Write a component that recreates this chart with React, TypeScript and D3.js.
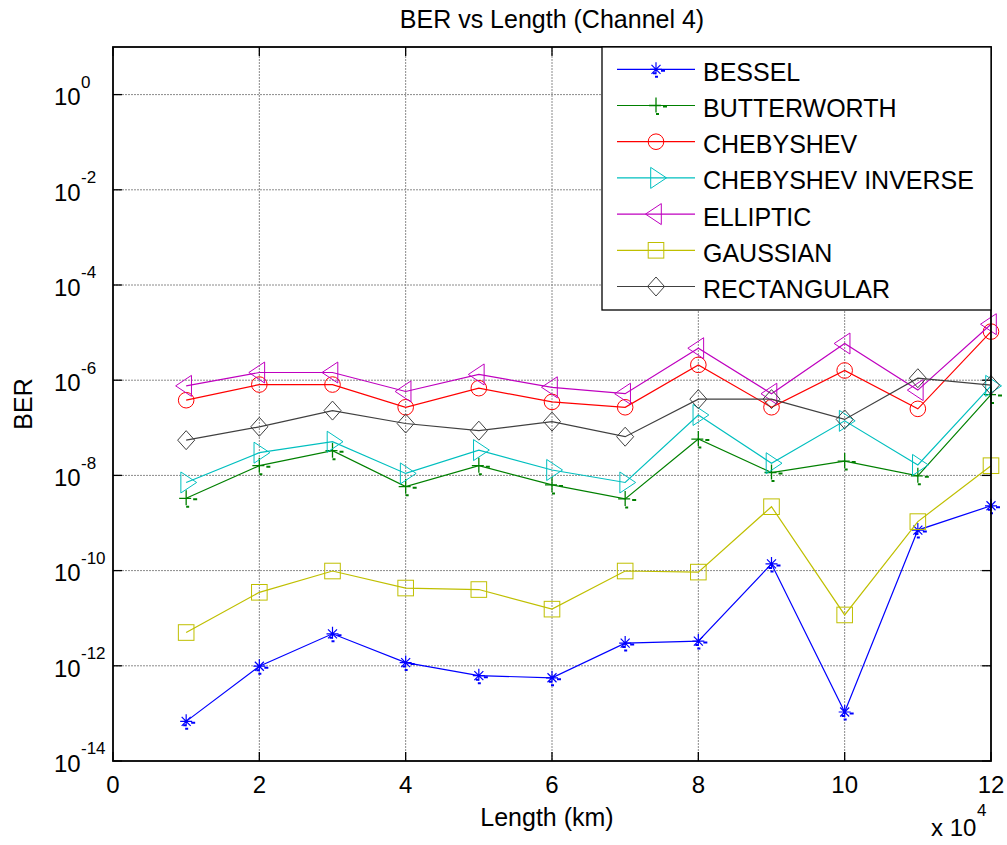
import React from "react";
import * as d3 from "d3";

const lengths = [10000, 20000, 30000, 40000, 50000, 60000, 70000, 80000, 90000, 100000, 110000, 120000];

const bessel = [6.8e-14, 9.8e-13, 4.7e-12, 1.17e-12, 6.2e-13, 5.6e-13, 3.0e-12, 3.3e-12, 1.38e-10, 1.07e-13, 7.1e-10, 2.3e-9];
const butterworth = [3.3e-9, 1.6e-8, 3.3e-8, 5.8e-9, 1.6e-8, 6.3e-9, 3.2e-9, 5.8e-8, 1.15e-8, 2.0e-8, 9.8e-9, 5.0e-7];
const chebyshev = [3.8e-7, 8.1e-7, 8.1e-7, 2.7e-7, 6.8e-7, 3.5e-7, 2.7e-7, 2.1e-6, 2.7e-7, 1.6e-6, 2.5e-7, 1.05e-5];
const chebyshevInverse = [7.1e-9, 3.0e-8, 5.1e-8, 1.1e-8, 3.4e-8, 1.3e-8, 7.1e-9, 1.86e-7, 1.8e-8, 1.4e-7, 1.66e-8, 7.6e-7];
const elliptic = [7.6e-7, 1.45e-6, 1.45e-6, 5.8e-7, 1.32e-6, 7.1e-7, 5.2e-7, 4.7e-6, 5.2e-7, 5.9e-6, 6.2e-7, 1.5e-5];
const gaussian = [5.0e-12, 3.5e-11, 9.8e-11, 4.3e-11, 4.0e-11, 1.55e-11, 9.8e-11, 9.3e-11, 2.2e-9, 1.17e-11, 1.07e-9, 1.6e-8];
const rectangular = [5.5e-8, 1.05e-7, 2.3e-7, 1.23e-7, 8.7e-8, 1.35e-7, 6.5e-8, 4.0e-7, 4.0e-7, 1.5e-7, 1.1e-6, 7.9e-7];

const seriesNames = ["BESSEL", "BUTTERWORTH", "CHEBYSHEV", "CHEBYSHEV INVERSE", "ELLIPTIC", "GAUSSIAN", "RECTANGULAR"];
const seriesValues = [bessel, butterworth, chebyshev, chebyshevInverse, elliptic, gaussian, rectangular];
const seriesColors = ["#0000ff", "#008000", "#ff0000", "#00bfbf", "#bf00bf", "#bfbf00", "#404040"];
const seriesMarkers = ["asterisk", "plus", "circle", "triRight", "triLeft", "square", "diamond"];

const xTicks = [0, 20000, 40000, 60000, 80000, 100000, 120000];
const xTickLabels = ["0", "2", "4", "6", "8", "10", "12"];
const yTickExps = [0, -2, -4, -6, -8, -10, -12, -14];

const W = 1007;
const H = 845;
const left = 113;
const right = 991;
const top = 47;
const bottom = 761;
const FONT = "'Liberation Sans', Arial, Helvetica, sans-serif";

function Marker({ type, x, y, color }: { type: string; x: number; y: number; color: string }) {
  const sw = 1;
  const common = { fill: "none", stroke: color, strokeWidth: sw };
  switch (type) {
    case "circle":
      return <circle cx={x} cy={y} r={7.8} {...common} />;
    case "square":
      return <rect x={x - 7.8} y={y - 7.8} width={15.6} height={15.6} {...common} />;
    case "diamond":
      return <path d={`M${x},${y - 9.5}L${x + 8.5},${y}L${x},${y + 9.5}L${x - 8.5},${y}Z`} {...common} />;
    case "triLeft":
      return <path d={`M${x - 10.5},${y}L${x + 5.3},${y - 10.5}L${x + 5.3},${y + 10.5}Z`} {...common} />;
    case "triRight":
      return <path d={`M${x + 10.5},${y}L${x - 5.3},${y - 10.5}L${x - 5.3},${y + 10.5}Z`} {...common} />;
    case "plus":
      return (
        <g stroke={color} strokeWidth={1.3} fill="none">
          <path d={`M${x - 7},${y}L${x + 5},${y}M${x},${y - 8}L${x},${y + 7}`} />
          <path d={`M${x + 7},${y + 1}L${x + 11},${y + 1}M${x},${y + 8.5}L${x + 3},${y + 8.5}`} strokeWidth={2} />
        </g>
      );
    case "asterisk":
    default:
      return (
        <g stroke={color} strokeWidth={1.2} fill="none">
          <path d={`M${x - 6},${y}L${x + 6},${y}M${x},${y - 7}L${x},${y + 5}M${x - 4.5},${y - 4.5}L${x + 4.5},${y + 4.5}M${x - 4.5},${y + 4.5}L${x + 4.5},${y - 4.5}`} />
          <path d={`M${x + 5},${y + 1.5}L${x + 9},${y + 1.5}M${x - 1},${y + 7.5}L${x + 2},${y + 7.5}M${x - 3},${y + 4}L${x},${y + 4}`} strokeWidth={2} />
        </g>
      );
  }
}

export default function App() {
  const xScale = d3.scaleLinear().domain([0, 120000]).range([left, right]);
  const yScale = d3.scaleLog().domain([1e-14, 1e1]).range([bottom, top]);

  const line = d3
    .line<number>()
    .x((_, i) => xScale(lengths[i]))
    .y((d) => yScale(d));

  const legendX = 602;
  const legendY = 47;
  const legendW = right - legendX;
  const legendH = 263;
  const rowY = (i: number) => 69.3 + i * 36.2;

  return (
    <svg
      width={W}
      height={H}
      style={{ position: "absolute", left: 0, top: 0, background: "#fff" }}
      fontFamily={FONT}
    >
      <rect x={0} y={0} width={W} height={H} fill="#fff" />
      {/* grid */}
      <g stroke="#8a8a8a" strokeWidth={1} strokeDasharray="2,1">
        {xTicks
          .filter((t) => t > 0 && t < 120000)
          .map((t) => (
            <line key={"gx" + t} x1={xScale(t)} x2={xScale(t)} y1={top} y2={bottom} />
          ))}
        {yTickExps
          .filter((e) => e > -14 && e < 1)
          .map((e) => (
            <line key={"gy" + e} x1={left} x2={right} y1={yScale(Math.pow(10, e))} y2={yScale(Math.pow(10, e))} />
          ))}
      </g>
      {/* ticks */}
      <g stroke="#000" strokeWidth={1.3}>
        {xTicks.map((t) => (
          <g key={"tx" + t}>
            <line x1={xScale(t)} x2={xScale(t)} y1={bottom} y2={bottom - 9} />
            <line x1={xScale(t)} x2={xScale(t)} y1={top} y2={top + 9} />
          </g>
        ))}
        {yTickExps.map((e) => (
          <g key={"ty" + e}>
            <line x1={left} x2={left + 9} y1={yScale(Math.pow(10, e))} y2={yScale(Math.pow(10, e))} />
            <line x1={right} x2={right - 9} y1={yScale(Math.pow(10, e))} y2={yScale(Math.pow(10, e))} />
          </g>
        ))}
      </g>
      {/* series */}
      {seriesValues.map((vals, si) => (
        <g key={"s" + si}>
          <path d={line(vals) || ""} fill="none" stroke={seriesColors[si]} strokeWidth={1.2} />
          {vals.map((v, i) => (
            <Marker key={i} type={seriesMarkers[si]} x={xScale(lengths[i])} y={yScale(v)} color={seriesColors[si]} />
          ))}
        </g>
      ))}
      {/* axes box */}
      <rect x={left} y={top} width={right - left} height={bottom - top} fill="none" stroke="#000" strokeWidth={1.8} />
      {/* x tick labels */}
      {xTicks.map((t, i) => (
        <text key={"xl" + t} x={xScale(t)} y={793} fontSize={24} textAnchor="middle" fill="#000">
          {xTickLabels[i]}
        </text>
      ))}
      {/* y tick labels */}
      {yTickExps.map((e) => {
        const y = yScale(Math.pow(10, e));
        return (
          <g key={"yl" + e} fill="#000">
            <text x={54} y={y + 10.7} fontSize={24}>
              10
            </text>
            <text x={81} y={y - 6.7} fontSize={17}>
              {String(e)}
            </text>
          </g>
        );
      })}
      {/* exponent */}
      <text x={931} y={836} fontSize={24} fill="#000">x 10</text>
      <text x={977} y={816} fontSize={17} fill="#000">4</text>
      {/* axis labels */}
      <text x={547} y={826} fontSize={25} textAnchor="middle" fill="#000">
        Length (km)
      </text>
      <text transform={`translate(32,${(top + bottom) / 2}) rotate(-90)`} fontSize={25} textAnchor="middle" fill="#000">
        BER
      </text>
      <text x={552} y={28} fontSize={25} textAnchor="middle" fill="#000">
        BER vs Length (Channel 4)
      </text>
      {/* legend */}
      <rect x={legendX} y={legendY} width={legendW} height={legendH} fill="#fff" stroke="#000" strokeWidth={1.3} />
      {seriesNames.map((name, i) => (
        <g key={"lg" + i}>
          <line x1={617} x2={695} y1={rowY(i)} y2={rowY(i)} stroke={seriesColors[i]} strokeWidth={1.2} />
          <Marker type={seriesMarkers[i]} x={656} y={rowY(i)} color={seriesColors[i]} />
          <text x={703} y={rowY(i) + 11.4} fontSize={25} fill="#000">
            {name}
          </text>
        </g>
      ))}
    </svg>
  );
}
